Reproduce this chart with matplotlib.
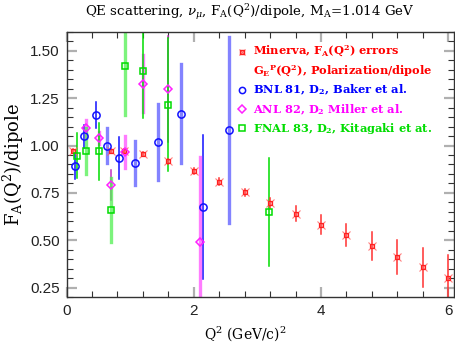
import matplotlib
matplotlib.use("Agg")
import matplotlib.pyplot as plt
from matplotlib.ticker import MultipleLocator

# Minerva points (red)
minerva_q2 = [0.1, 0.7, 0.9, 1.2, 1.6, 2.0, 2.4, 2.8, 3.2, 3.6, 4.0, 4.4, 4.8, 5.2, 5.6, 6.0]
minerva_r = [0.97, 0.97, 0.97, 0.955, 0.917, 0.864, 0.81, 0.753, 0.697, 0.64, 0.582, 0.527, 0.47, 0.412, 0.356, 0.30]
minerva_err = [0.01, 0.01, 0.01, 0.012, 0.014, 0.016, 0.018, 0.02, 0.025, 0.04, 0.05, 0.06, 0.072, 0.088, 0.105, 0.12]

# BNL 81 (blue)
bnl_q2 = [0.136, 0.28, 0.465, 0.64, 0.82, 1.08, 1.44, 1.80, 2.15, 2.56]
bnl_r = [0.89, 1.048, 1.16, 1.0, 0.933, 0.907, 1.018, 1.168, 0.677, 1.083]
bnl_err = [0.065, 0.06, 0.07, 0.09, 0.11, 0.115, 0.2, 0.26, 0.38, 0.49]
bnl_thin = [1, 1, 1, 0, 1, 0, 0, 0, 1, 0]

# ANL 82 (magenta)
anl_q2 = [0.31, 0.51, 0.706, 0.915, 1.2, 1.595, 2.1]
anl_r = [1.092, 1.04, 0.793, 0.965, 1.327, 1.297, 0.488]
anl_err = [0.045, 0.03, 0.08, 0.085, 0.15, 0.28, 0.45]
anl_thin = [0, 0, 1, 0, 0, 1, 0]

# FNAL 83 (green)
fnal_q2 = [0.157, 0.31, 0.51, 0.706, 0.915, 1.2, 1.59, 3.18]
fnal_r = [0.947, 0.97, 0.97, 0.66, 1.42, 1.394, 1.216, 0.65]
fnal_err = [0.12, 0.12, 0.15, 0.17, 0.26, 0.25, 0.35, 0.285]
fnal_thin = [1, 0, 1, 0, 0, 1, 1, 1]

serif = "DejaVu Serif"
plt.rcParams["mathtext.fontset"] = "dejavuserif"

fig = plt.figure(figsize=(4.56, 3.43), dpi=100)
ax = fig.add_axes([0.146, 0.134, 0.8496, 0.773])


def draw_bars(q2, r, err, thin, dark, light):
    for x, y, e, t in zip(q2, r, err, thin):
        if t:
            ax.plot([x, x], [y - e, y + e], color=dark, lw=1.1, zorder=2)
        else:
            ax.plot([x, x], [y - e, y + e], color=light, lw=2.4, alpha=0.75, zorder=2)


draw_bars(bnl_q2, bnl_r, bnl_err, bnl_thin, "#1010ff", "#5a5aff")
draw_bars(anl_q2, anl_r, anl_err, anl_thin, "#c030c0", "#ff50ff")
draw_bars(fnal_q2, fnal_r, fnal_err, fnal_thin, "#00dd00", "#50f050")
for x, y, e in zip(minerva_q2, minerva_r, minerva_err):
    ax.plot([x, x], [y - e, y + e], color="#ff3030", lw=1.1, zorder=2)

ax.plot(minerva_q2, minerva_r, ls="none", marker="x", ms=5.5, mew=0.8, color="#ff6060", alpha=0.8, zorder=3)
ax.plot(minerva_q2, minerva_r, ls="none", marker="s", ms=3.0, mew=0.9, mfc="none", mec="#ff2020", zorder=3)
ax.plot(bnl_q2, bnl_r, ls="none", marker="o", ms=5.2, mew=1.1, mfc="none", mec="#1010ff", zorder=4)
ax.plot(anl_q2, anl_r, ls="none", marker="D", ms=4.2, mew=1.1, mfc="none", mec="#ff20ff", zorder=4)
ax.plot(fnal_q2, fnal_r, ls="none", marker="s", ms=5.0, mew=1.1, mfc="none", mec="#00dd00", zorder=4)

ax.set_xlim(0, 6.09)
ax.set_ylim(0.2, 1.6)
ax.xaxis.set_major_locator(MultipleLocator(2))
ax.xaxis.set_minor_locator(MultipleLocator(0.4))
ax.yaxis.set_major_locator(MultipleLocator(0.25))
ax.yaxis.set_minor_locator(MultipleLocator(0.05))
ax.yaxis.set_major_formatter(plt.FuncFormatter(lambda v, p: "%.2f" % v))
ax.tick_params(which="both", direction="in", top=True, right=True)
ax.tick_params(which="major", length=7, width=1.6, color="#b0b0b0",
               labelsize=11, pad=5, labelcolor="#222222")
ax.tick_params(which="minor", length=4, width=0.8, color="#333333")
for lab in ax.get_xticklabels() + ax.get_yticklabels():
    lab.set_fontfamily("Liberation Sans")
for s in ax.spines.values():
    s.set_linewidth(1.0)
    s.set_color("#333333")

ax.set_xlabel(r"Q$^\mathregular{2}$ (GeV/c)$^\mathregular{2}$", fontfamily=serif, fontsize=10, labelpad=1)
ax.xaxis.set_label_coords(0.46, -0.1)
ax.set_ylabel(r"F$_\mathregular{A}$(Q$^\mathregular{2}$)/dipole", fontfamily=serif, fontsize=13, labelpad=3)
fig.text(0.548, 0.965, r"QE scattering, $\nu_\mu$, F$_\mathregular{A}$(Q$^\mathregular{2}$)/dipole, M$_\mathregular{A}$=1.014 GeV",
         fontfamily=serif, fontsize=9.6, ha="center", va="center")

# hand-made legend
mx, tx = 0.452, 0.482
rows = [
    (0.925, r"Minerva, F$_\mathregular{A}$(Q$^\mathregular{2}$) errors", "#ff0000"),
    (0.852, r"G$_\mathregular{E}$$^\mathregular{P}$(Q$^\mathregular{2}$), Polarization/dipole", "#ff0000"),
    (0.781, r"BNL 81, D$_\mathregular{2}$, Baker et al.", "#0000ff"),
    (0.708, r"ANL 82, D$_\mathregular{2}$ Miller et al.", "#ff00ff"),
    (0.636, r"FNAL 83, D$_\mathregular{2}$, Kitagaki et at.", "#00dd00"),
]
for y, txt, c in rows:
    ax.text(tx, y, txt, transform=ax.transAxes, fontfamily=serif, fontweight="bold",
            fontsize=8.2, color=c, ha="left", va="center")
ax.plot([mx], [0.925], transform=ax.transAxes, marker="x", ms=5, mew=0.8, color="#ff6060", ls="none")
ax.plot([mx], [0.925], transform=ax.transAxes, marker="s", ms=2.8, mfc="none", mec="#ff2020", ls="none")
ax.plot([mx], [0.781], transform=ax.transAxes, marker="o", ms=4.5, mfc="none", mec="#1010ff", mew=1.1, ls="none")
ax.plot([mx], [0.708], transform=ax.transAxes, marker="D", ms=3.6, mfc="none", mec="#ff20ff", mew=1.1, ls="none")
ax.plot([mx], [0.636], transform=ax.transAxes, marker="s", ms=4.0, mfc="none", mec="#00dd00", mew=1.1, ls="none")

fig.savefig("out.png", dpi=100)
